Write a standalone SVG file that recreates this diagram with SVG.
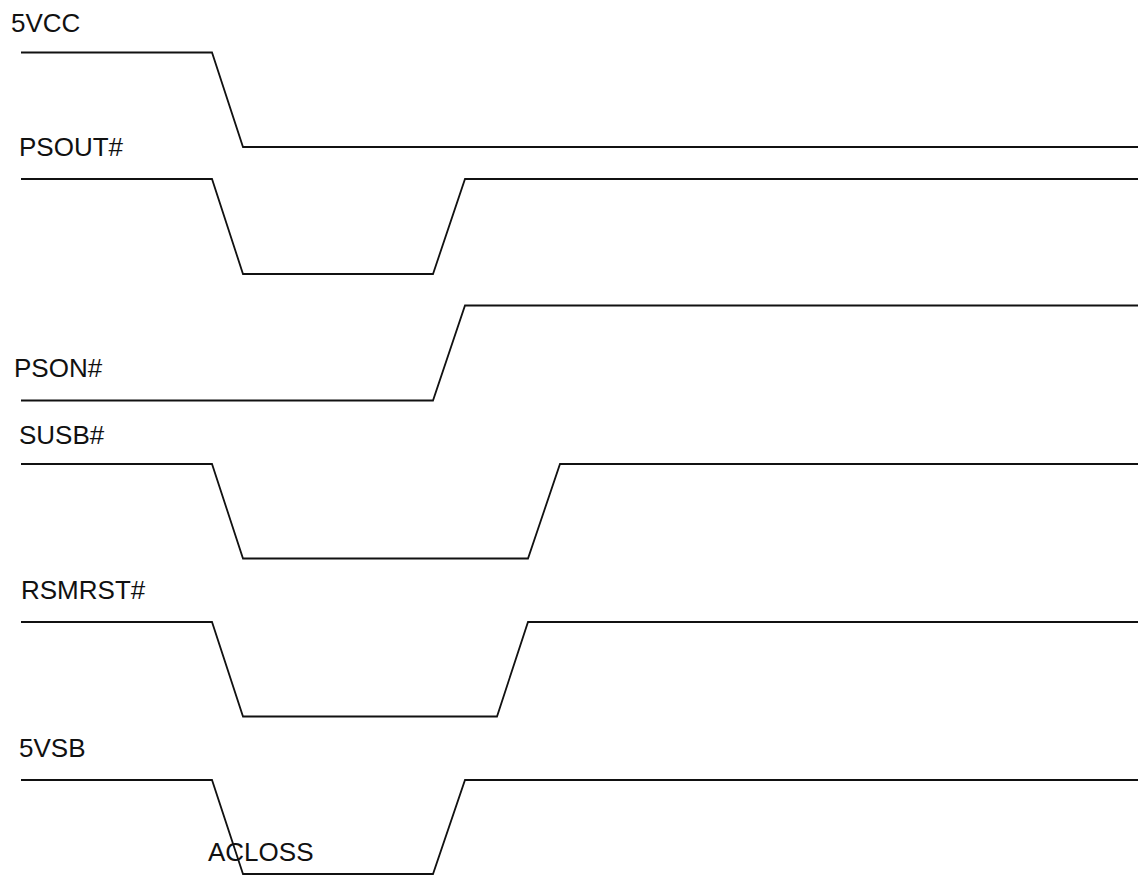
<svg xmlns="http://www.w3.org/2000/svg" width="1138" height="875" viewBox="0 0 1138 875">
<style>
.bg{fill:#ffffff}
.wave{fill:none;stroke:#111111;stroke-width:1.8;stroke-linejoin:miter}
.lbl{font-family:"Liberation Sans",Arial,sans-serif;font-size:26px;fill:#111111}
</style>
<rect class="bg" x="0" y="0" width="1138" height="875"/>
<g id="sig-5vcc">
<text class="lbl" x="11" y="32">5VCC</text>
</g>
<g id="sig-psout">
<text class="lbl" x="19" y="156">PSOUT#</text>
</g>
<g id="sig-pson">
<text class="lbl" x="14" y="377">PSON#</text>
</g>
<g id="sig-susb">
<text class="lbl" x="19" y="444">SUSB#</text>
</g>
<g id="sig-rsmrst">
<text class="lbl" x="21" y="599">RSMRST#</text>
</g>
<g id="sig-5vsb">
<text class="lbl" x="19" y="757">5VSB</text>
</g>
<g id="waveforms">
<polyline class="wave" points="21,52.5 212,52.5 243,147 1138,147"/>
<polyline class="wave" points="21,179 212,179 243,274 433,274 465,179 1138,179"/>
<polyline class="wave" points="21,400.5 433,400.5 465,305.5 1138,305.5"/>
<polyline class="wave" points="21,464 212,464 243,558.5 528,558.5 560,464 1138,464"/>
<polyline class="wave" points="21,622 212,622 243,716.5 497,716.5 528,622 1138,622"/>
<polyline class="wave" points="21,780 212,780 243,874 433,874 465,780 1138,780"/>
</g>
<g id="acloss">
<text class="lbl" x="208" y="861">ACLOSS</text>
</g>
</svg>
